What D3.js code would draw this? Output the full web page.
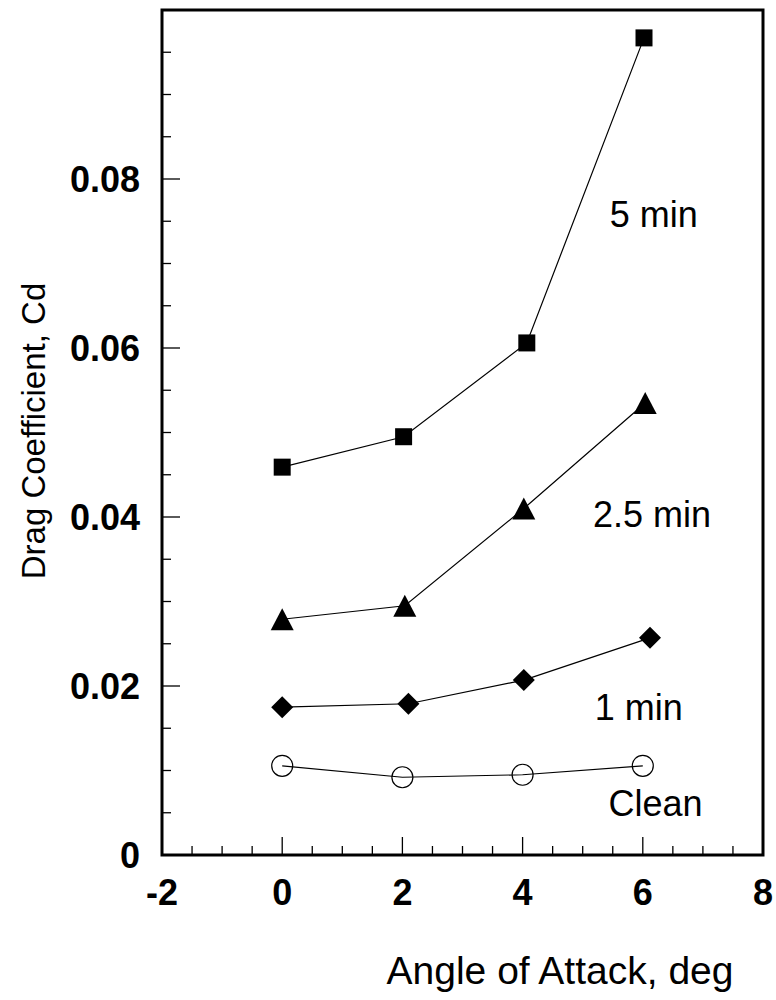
<!DOCTYPE html>
<html>
<head>
<meta charset="utf-8">
<script src="https://cdn.jsdelivr.net/npm/d3@7"></script>
<style>
  body { margin: 0; background: #fff; }
  svg { display: block; font-family: "Liberation Sans", Arial, sans-serif; }
</style>
</head>
<body>
<svg id="chart" width="776" height="1000"></svg>
<script>
// data
const fiveMinX = [0, 2.02, 4.07, 6.02];
const fiveMinCd = [0.0459, 0.0495, 0.0606, 0.0967];
const twoHalfMinX = [0, 2.04, 4.02, 6.04];
const twoHalfMinCd = [0.0279, 0.0295, 0.0410, 0.0535];
const oneMinX = [0, 2.1, 4.02, 6.12];
const oneMinCd = [0.0175, 0.0179, 0.0207, 0.0257];
const cleanX = [0, 2.0, 4.0, 6.0];
const cleanCd = [0.01055, 0.0092, 0.0095, 0.01055];

const xTicks = [-2, 0, 2, 4, 6, 8];
const yTicks = [0, 0.02, 0.04, 0.06, 0.08];
const yTickLabels = ["0", "0.02", "0.04", "0.06", "0.08"];

// series labels, placed in data units
const labelText = ["5 min", "2.5 min", "1 min", "Clean"];
const labelX = [5.45, 5.17, 5.2, 5.43];
const labelY = [0.0743, 0.0388, 0.016, 0.0046];

const svg = d3.select("#chart");

const margin = { left: 162, right: 13, top: 10, bottom: 145 };
const W = 776, H = 1000;

const x = d3.scaleLinear().domain([-2, 8]).range([margin.left, W - margin.right]);
const y = d3.scaleLinear().domain([0, 0.1]).range([H - margin.bottom, margin.top]);

// minor + major ticks (inside)
const xMinor = d3.range(-2, 8.001, 0.5);
const yMinor = d3.range(0, 0.1001, 0.005);

svg.append("g").selectAll("line")
    .data(xMinor)
    .join("line")
    .attr("x1", d => x(d))
    .attr("x2", d => x(d))
    .attr("y1", y(0))
    .attr("y2", d => y(0) - (Math.abs(d / 2 - Math.round(d / 2)) < 1e-6 ? 18 : 9))
    .attr("stroke", "#000")
    .attr("stroke-width", 1.3);

svg.append("g").selectAll("line")
    .data(yMinor)
    .join("line")
    .attr("y1", d => y(d))
    .attr("y2", d => y(d))
    .attr("x1", x(-2))
    .attr("x2", d => x(-2) + (Math.abs(d / 0.02 - Math.round(d / 0.02)) < 1e-6 ? 18 : 9))
    .attr("stroke", "#000")
    .attr("stroke-width", 1.3);

// frame
svg.append("rect")
    .attr("x", x(-2))
    .attr("y", y(0.1))
    .attr("width", x(8) - x(-2))
    .attr("height", y(0) - y(0.1))
    .attr("fill", "none")
    .attr("stroke", "#000")
    .attr("stroke-width", 3);

// tick labels
svg.append("g").selectAll("text")
    .data(xTicks)
    .join("text")
    .attr("x", d => x(d))
    .attr("y", y(0) + 50)
    .attr("text-anchor", "middle")
    .attr("font-size", 36)
    .attr("font-weight", "bold")
    .text(d => d);

svg.append("g").selectAll("text")
    .data(yTicks)
    .join("text")
    .attr("x", x(-2) - 22)
    .attr("y", d => y(d))
    .attr("dy", "0.36em")
    .attr("text-anchor", "end")
    .attr("font-size", 36)
    .attr("font-weight", "bold")
    .text((d, i) => yTickLabels[i]);

// axis titles
svg.append("text")
    .attr("x", 560)
    .attr("y", 984)
    .attr("text-anchor", "middle")
    .attr("font-size", 39)
    .text("Angle of Attack, deg");

svg.append("text")
    .attr("transform", `translate(45, ${431}) rotate(-90)`)
    .attr("text-anchor", "middle")
    .attr("font-size", 33)
    .text("Drag Coefficient, Cd");

// series lines + markers
const series = [
    { xs: fiveMinX, ys: fiveMinCd, marker: "square" },
    { xs: twoHalfMinX, ys: twoHalfMinCd, marker: "triangle" },
    { xs: oneMinX, ys: oneMinCd, marker: "diamond" },
    { xs: cleanX, ys: cleanCd, marker: "circle" }
];

const line = d3.line().x(d => x(d[0])).y(d => y(d[1]));

function markerPath(kind) {
    if (kind === "square") return "M-8.5,-8.5H8.5V8.5H-8.5Z";
    if (kind === "triangle") return "M0,-11L11.5,11H-11.5Z";
    if (kind === "diamond") return "M0,-11L11,0L0,11L-11,0Z";
    return null;
}

series.forEach(s => {
    const pts = s.xs.map((v, i) => [v, s.ys[i]]);

    svg.append("path")
        .attr("d", line(pts))
        .attr("fill", "none")
        .attr("stroke", "#000")
        .attr("stroke-width", 1.2);

    if (s.marker === "circle") {
        svg.append("g").selectAll("circle")
            .data(pts)
            .join("circle")
            .attr("cx", d => x(d[0]))
            .attr("cy", d => y(d[1]))
            .attr("r", 10.5)
            .attr("fill", "none")
            .attr("stroke", "#000")
            .attr("stroke-width", 1.2);
    } else {
        svg.append("g").selectAll("path")
            .data(pts)
            .join("path")
            .attr("transform", d => `translate(${x(d[0])},${y(d[1])})`)
            .attr("d", markerPath(s.marker))
            .attr("fill", "#000");
    }
});

// series labels
svg.append("g").selectAll("text")
    .data(labelText)
    .join("text")
    .attr("x", (d, i) => x(labelX[i]))
    .attr("y", (d, i) => y(labelY[i]))
    .attr("font-size", 36)
    .text(d => d);
</script>
</body>
</html>
